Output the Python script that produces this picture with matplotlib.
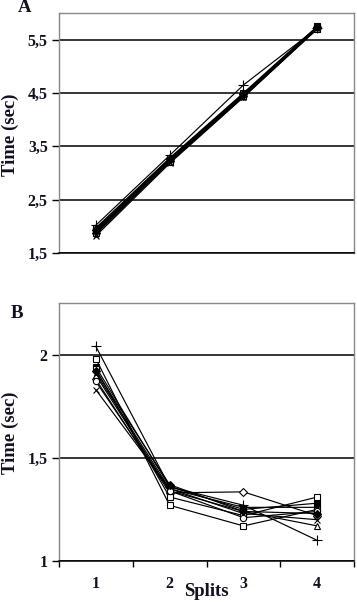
import matplotlib
matplotlib.use("Agg")
import matplotlib.pyplot as plt
from matplotlib.ticker import FixedLocator, FuncFormatter

splits = [1, 2, 3, 4]
split_labels = ["1", "2", "3", "4"]

# Panel A: time (sec) per split configuration, one list per series
a_plus = [2.02, 3.33, 4.65, 5.72]
a_sq_open = [1.97, 3.28, 4.50, 5.75]
a_x = [1.82, 3.18, 4.42, 5.70]
a_sq_fill = [1.92, 3.25, 4.47, 5.74]
a_diam = [1.88, 3.22, 4.45, 5.72]
a_tri = [1.90, 3.24, 4.46, 5.73]
a_star = [1.85, 3.20, 4.43, 5.71]
a_circ = [1.95, 3.27, 4.48, 5.73]
a_dash = [1.87, 3.21, 4.44, 5.70]
a_diam_fill = [1.93, 3.26, 4.49, 5.74]

# Panel B
b_plus = [2.04, 1.36, 1.27, 1.10]
b_sq_open = [1.98, 1.27, 1.17, 1.25]
b_diam = [1.88, 1.33, 1.335, 1.22]
b_tri = [1.90, 1.34, 1.24, 1.17]
b_x = [1.83, 1.35, 1.23, 1.20]
b_sq_fill = [1.94, 1.36, 1.25, 1.28]
b_sq_open2 = [1.93, 1.31, 1.22, 1.31]
b_star = [1.91, 1.35, 1.26, 1.26]
b_circ = [1.87, 1.34, 1.21, 1.24]
b_diam_fill = [1.92, 1.37, 1.24, 1.23]

a_ticks = [1.5, 2.5, 3.5, 4.5, 5.5]
b_ticks = [1.0, 1.5, 2.0]

styles = [
    dict(marker="+", mfc="black", ms=7),
    dict(marker="s", mfc="white", ms=5),
    dict(marker="D", mfc="white", ms=4.5),
    dict(marker="^", mfc="white", ms=5),
    dict(marker="x", mfc="black", ms=5),
    dict(marker="s", mfc="black", ms=4.5),
    dict(marker="s", mfc="white", ms=5),
    dict(marker="*", mfc="black", ms=5),
    dict(marker="o", mfc="white", ms=4.5),
    dict(marker="D", mfc="black", ms=4),
]

A = [a_plus, a_sq_open, a_diam, a_tri, a_x, a_sq_fill, a_dash, a_star, a_circ, a_diam_fill]
B = [b_plus, b_sq_open, b_diam, b_tri, b_x, b_sq_fill, b_sq_open2, b_star, b_circ, b_diam_fill]

FONT = ["Liberation Serif", "DejaVu Serif"]
txtc = "#111122"
TICKFS = 11.5
LABFS = 13.5

fig = plt.figure(figsize=(3.57, 6.02), dpi=100)
axA = fig.add_axes([0.165, 0.5797, 0.827, 0.3987])
axB = fig.add_axes([0.165, 0.0681, 0.827, 0.4286])

comma = FuncFormatter(lambda v, p: ("%g" % v).replace(".", ","))

def style_ax(ax, data, ylim, yticks, show_x):
    xs = [s - 0.5 for s in splits]
    for vals, st in zip(data, styles):
        ax.plot(xs, vals, color="black", lw=0.85, mec="black", mew=0.8, **st)
    ax.set_xlim(0, len(splits))
    ax.set_ylim(*ylim)
    ax.yaxis.set_major_locator(FixedLocator(yticks))
    ax.yaxis.set_major_formatter(comma)
    ax.grid(axis="y", color="black", lw=1.1)
    ax.set_axisbelow(True)
    for s in ["left", "top", "right"]:
        ax.spines[s].set_color("#888888")
        ax.spines[s].set_linewidth(1.0)
    ax.spines["bottom"].set_color("black")
    ax.spines["bottom"].set_linewidth(1.1)
    ax.tick_params(axis="y", direction="out", length=5, width=1, color="black",
                   pad=3, labelsize=TICKFS, labelcolor=txtc)
    for lab in ax.get_yticklabels():
        lab.set_fontfamily(FONT)
        lab.set_fontweight("bold")
    if show_x:
        ax.set_xticks(range(len(splits) + 1))
        ax.set_xticklabels([])
        ax.set_xticks(xs, minor=True)
        ax.set_xticklabels(split_labels, minor=True)
        ax.tick_params(axis="x", which="major", direction="out", length=4, width=1, color="black")
        ax.tick_params(axis="x", which="minor", length=0, pad=11, labelsize=TICKFS, labelcolor=txtc)
        for lab in ax.get_xticklabels(minor=True):
            lab.set_fontfamily(FONT)
            lab.set_fontweight("bold")
    else:
        ax.set_xticks([])

style_ax(axA, A, (1.5, 6.0), a_ticks, False)
style_ax(axB, B, (1.0, 2.25), b_ticks, True)

fig.text(10 / 357, 1 - 135 / 602, "Time (sec)", rotation=90, fontsize=LABFS, fontweight="bold",
         family=FONT, color=txtc, va="center", ha="center")
fig.text(10 / 357, 1 - 433 / 602, "Time (sec)", rotation=90, fontsize=LABFS, fontweight="bold",
         family=FONT, color=txtc, va="center", ha="center")
fig.text(25 / 357, 1 - 8 / 602, "A", fontsize=LABFS, fontweight="bold", family=FONT, color=txtc,
         va="center", ha="center")
fig.text(17 / 357, 1 - 313 / 602, "B", fontsize=LABFS, fontweight="bold", family=FONT, color=txtc,
         va="center", ha="center")
fig.text(206 / 357, 1 - 592 / 602, "Splits", fontsize=LABFS, fontweight="bold", family=FONT,
         color=txtc, va="center", ha="center")

fig.savefig("out.png", dpi=100)
